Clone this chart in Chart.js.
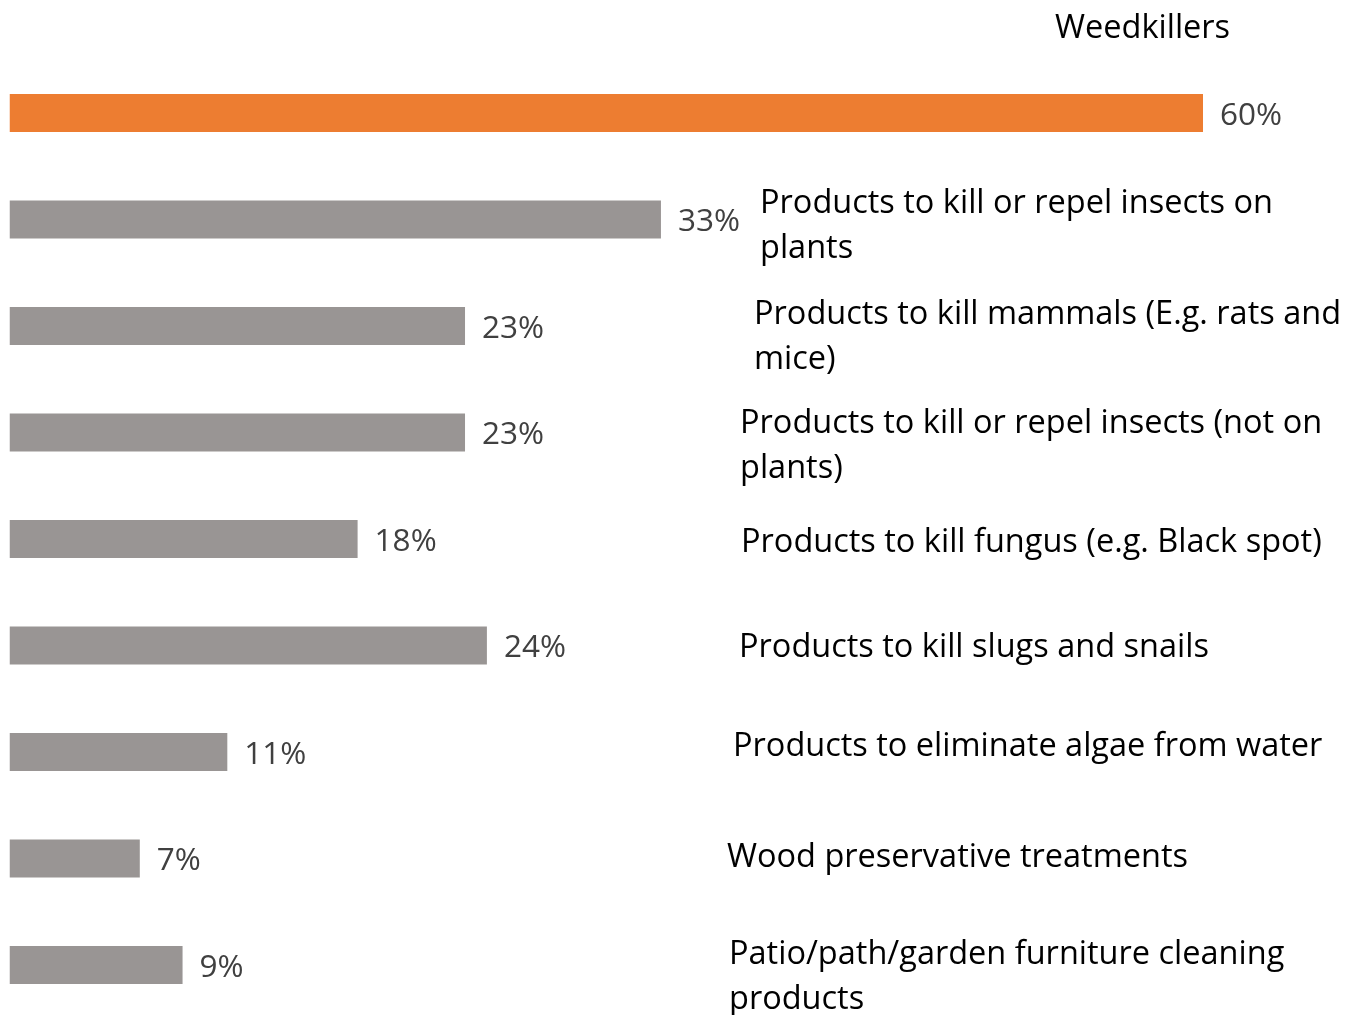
<!DOCTYPE html>
<html>
<head>
<meta charset="utf-8">
<script src="https://cdn.jsdelivr.net/npm/chart.js"></script>
<style>
    html, body { margin: 0; padding: 0; background: #ffffff; overflow: hidden; }
    #wrap { width: 1356px; height: 1020px; }
</style>
</head>
<body>
<div id="wrap"><canvas id="pesticideChart"></canvas></div>
<script>
// categories (each label may wrap onto two lines)
const categories = [
    ['Weedkillers'],
    ['Products to kill or repel insects on', 'plants'],
    ['Products to kill mammals (E.g. rats and', 'mice)'],
    ['Products to kill or repel insects (not on', 'plants)'],
    ['Products to kill fungus (e.g. Black spot)'],
    ['Products to kill slugs and snails'],
    ['Products to eliminate algae from water'],
    ['Wood preservative treatments'],
    ['Patio/path/garden furniture cleaning', 'products']
];

// share of respondents (%)
const shares = [60, 32.75, 22.9, 22.9, 17.5, 24.0, 10.95, 6.55, 8.7];

const barColors = ['#ed7d31', '#999594', '#999594', '#999594', '#999594', '#999594', '#999594', '#999594', '#999594'];

// where each category label sits (left x in px, vertical shift from bar centre)
const labelX = [1055, 760, 754, 740, 741, 739, 733, 727, 729];
const labelDy = [-84, -16, -11, -9, 4, 2, -5, -1, -10];

const labelsPlugin = {
    id: 'barLabels',
    afterDatasetsDraw(chart) {
        const ctx = chart.ctx;
        const meta = chart.getDatasetMeta(0);
        ctx.save();
        ctx.textBaseline = 'middle';
        ctx.textAlign = 'left';
        meta.data.forEach((bar, i) => {
            // value label
            ctx.font = '31.5px "Open Sans"';
            ctx.fillStyle = '#404040';
            ctx.fillText(Math.round(shares[i]) + '%', bar.x + 17, bar.y + 3);

            // category label
            ctx.font = '32.5px "Open Sans"';
            ctx.fillStyle = '#000000';
            categories[i].forEach((line, j) => {
                ctx.fillText(line, labelX[i], bar.y + labelDy[i] + j * 45);
            });
        });
        ctx.restore();
    }
};

const chartInst = new Chart(document.getElementById('pesticideChart').getContext('2d'), {
    type: 'bar',
    data: {
        labels: categories.map(c => c.join(' ')),
        datasets: [{
            data: shares,
            backgroundColor: barColors,
            borderWidth: 0,
            barPercentage: 0.357,
            categoryPercentage: 1
        }]
    },
    options: {
        indexAxis: 'y',
        responsive: true,
        maintainAspectRatio: false,
        animation: false,
        layout: {
            padding: { left: 9.5, right: 153, top: 59.75, bottom: 1.75 }
        },
        plugins: {
            legend: { display: false },
            tooltip: { enabled: false }
        },
        scales: {
            x: { min: 0, max: 60, display: false },
            y: { display: false, offset: true }
        }
    },
    plugins: [labelsPlugin]
});
</script>
</body>
</html>
